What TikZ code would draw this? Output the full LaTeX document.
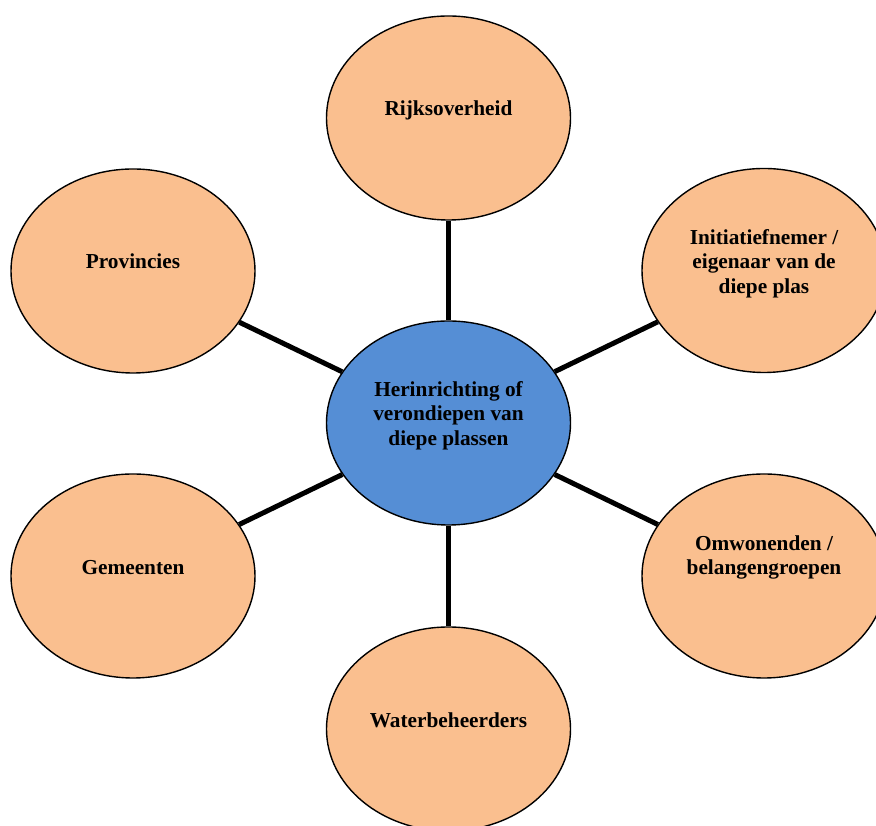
\documentclass[tikz,border=0pt]{standalone}
\usepackage{fontspec}
\setmainfont{Liberation Serif}
\usetikzlibrary{shapes.geometric}
\definecolor{peach}{HTML}{FABF8F}
\definecolor{midblue}{HTML}{558ED5}
\begin{document}
\begin{tikzpicture}[x=1pt,y=1pt,
  bubble/.style={ellipse,draw=black,line width=1.4pt,fill=peach,minimum width=244pt,minimum height=204pt,inner sep=0pt},
  hub/.style={bubble,fill=midblue},
  lbl/.style={align=center,font=\fontsize{21.3}{24.5}\selectfont\bfseries,anchor=base,inner sep=0pt},
  conn/.style={line width=5pt,draw=black}]
\useasboundingbox (0,0) rectangle (876,826);
\node[hub]    (c)  at (448.5,403) {};
\node[bubble] (t)  at (448.5,708) {};
\node[bubble] (lt) at (133,555) {};
\node[bubble] (lb) at (133,250) {};
\node[bubble] (rt) at (764,555.5) {};
\node[bubble] (rb) at (764,250) {};
\node[bubble] (b)  at (448.5,97) {};
\draw[conn] (c) -- (t);
\draw[conn] (c) -- (lt);
\draw[conn] (c) -- (lb);
\draw[conn] (c) -- (rt);
\draw[conn] (c) -- (rb);
\draw[conn] (c) -- (b);
\node[lbl] (ct)  at (448.5,380.5) {Herinrichting of\\verondiepen van\\diepe plassen};
\node[lbl] (tt)  at (448.5,710) {Rijksoverheid};
\node[lbl] (ltt) at (133,557) {Provincies};
\node[lbl] (lbt) at (133,251) {Gemeenten};
\node[lbl] (bt)  at (448.5,98.3) {Waterbeheerders};
\node[lbl] (rtt) at (764,532.7) {Initiatiefnemer /\\eigenaar van de\\diepe plas};
\node[lbl] (rbt) at (764,251) {Omwonenden /\\belangengroepen};
\end{tikzpicture}
\end{document}
